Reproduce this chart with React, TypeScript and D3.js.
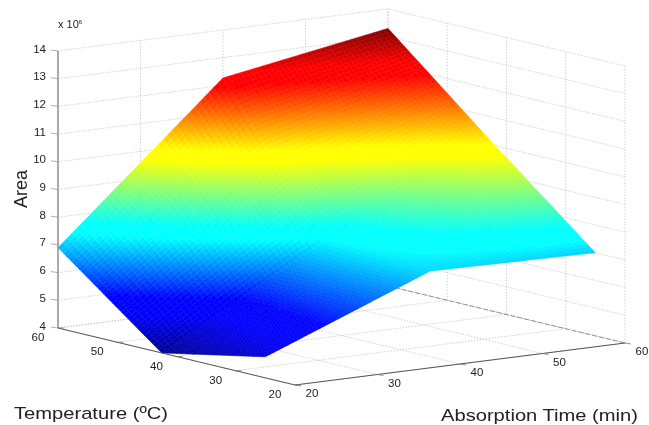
import React from 'react';
import * as d3 from 'd3';

// values
const timeGrid = [20, 40, 60];
const tempGrid = [25, 42.5, 60];
// area / 1e6, rows follow tempGrid, columns follow timeGrid
const areaRow25 = [4.76, 7.1, 7.0];
const areaRow42 = [4.0, 7.33, 10.1];
const areaRow60 = [6.9, 12.27, 13.3];

const timeTicks = [20, 30, 40, 50, 60];
const tempTicks = [20, 30, 40, 50, 60];
const areaTicks = [4, 5, 6, 7, 8, 9, 10, 11, 12, 13, 14];
// jet, with the small plateaus the picture shows at blue, cyan, yellow and red
const jetStops = ['#00008f', '#0000ff', '#0000ff', '#00ffff', '#00ffff', '#ffff00', '#ffff00', '#ff0000', '#ff0000', '#800000'];
const jetDomain = [0, 0.12, 0.17, 0.36, 0.4, 0.61, 0.65, 0.86, 0.9, 1];

// axonometric projection, box corners taken from the MATLAB figure
const timeX = d3.scaleLinear().domain([20, 60]).range([0, 330]);
const timeY = d3.scaleLinear().domain([20, 60]).range([0, -42]);
const tempX = d3.scaleLinear().domain([20, 60]).range([0, -237]);
const tempY = d3.scaleLinear().domain([20, 60]).range([0, -57]);
const areaY = d3.scaleLinear().domain([4, 14]).range([0, -277]);
const origin = [295, 385];

const project = (t: number, T: number, a: number): [number, number] => [
  origin[0] + timeX(t) + tempX(T),
  origin[1] + timeY(t) + tempY(T) + areaY(a),
];

const areaRows = [areaRow25, areaRow42, areaRow60];
const zMin = 4;
const zMax = 13.3;
const jet = d3.scaleLinear<string>().domain(jetDomain).range(jetStops).interpolate(d3.interpolateRgb);
const color = (a: number) => jet((a - zMin) / (zMax - zMin));
const lineGen = d3.line();

const STEPS = 36;

// slice every grid cell into small pieces, each one filled from its mean area
function surfaceCells() {
  const cells: { d: string; fill: string }[] = [];
  for (let i = 0; i < tempGrid.length - 1; i++) {
    for (let j = 0; j < timeGrid.length - 1; j++) {
      const v00 = { t: timeGrid[j], T: tempGrid[i], a: areaRows[i][j] };
      const v01 = { t: timeGrid[j + 1], T: tempGrid[i], a: areaRows[i][j + 1] };
      const v10 = { t: timeGrid[j], T: tempGrid[i + 1], a: areaRows[i + 1][j] };
      const v11 = { t: timeGrid[j + 1], T: tempGrid[i + 1], a: areaRows[i + 1][j + 1] };
      for (let u = 0; u < STEPS; u++) {
        for (let v = 0; v < STEPS; v++) {
          const at = (p: number, q: number) => {
            const a = d3.interpolateNumber(d3.interpolateNumber(v00.a, v01.a)(q), d3.interpolateNumber(v10.a, v11.a)(q))(p);
            const tt = d3.interpolateNumber(v00.t, v01.t)(q);
            const TT = d3.interpolateNumber(v00.T, v10.T)(p);
            return { a, pt: project(tt, TT, a) };
          };
          const p0 = at(u / STEPS, v / STEPS);
          const p1 = at(u / STEPS, (v + 1) / STEPS);
          const p2 = at((u + 1) / STEPS, (v + 1) / STEPS);
          const p3 = at((u + 1) / STEPS, v / STEPS);
          cells.push({
            d: lineGen([p0.pt, p1.pt, p2.pt, p3.pt])! + 'Z',
            fill: color((p0.a + p1.a + p2.a + p3.a) / 4),
          });
        }
      }
    }
  }
  return cells;
}

const font = '"Liberation Sans", Arial, sans-serif';
const gridStyle = { stroke: '#c6c6c6', strokeWidth: 0.8, strokeDasharray: '1.5 1.5', fill: 'none' };

function GridLine({ a, b }: { a: [number, number]; b: [number, number] }) {
  return <path d={lineGen([a, b])!} {...gridStyle} />;
}

export default function App() {
  const cells = surfaceCells();
  return (
    <svg width={649} height={425} style={{ position: 'absolute', left: 0, top: 0, background: '#fff' }}>
      <defs>
        <filter id="soft" x="-5%" y="-5%" width="110%" height="110%">
          <feGaussianBlur stdDeviation="0.35" />
        </filter>
        <filter id="softer" x="-5%" y="-5%" width="110%" height="110%">
          <feGaussianBlur stdDeviation="0.7" />
        </filter>
      </defs>
      <g filter="url(#soft)">
        {/* back walls */}
        {areaTicks.map((a) => (
          <g key={a}>
            <GridLine a={project(20, 60, a)} b={project(60, 60, a)} />
            <GridLine a={project(60, 60, a)} b={project(60, 20, a)} />
          </g>
        ))}
        {timeTicks.map((t) => (
          <GridLine key={t} a={project(t, 60, 4)} b={project(t, 60, 14)} />
        ))}
        {tempTicks.map((T) => (
          <GridLine key={T} a={project(60, T, 4)} b={project(60, T, 14)} />
        ))}
        {/* floor */}
        {timeTicks.map((t) => (
          <GridLine key={t} a={project(t, 20, 4)} b={project(t, 60, 4)} />
        ))}
        {tempTicks.map((T) => (
          <GridLine key={T} a={project(20, T, 4)} b={project(60, T, 4)} />
        ))}
        <path
          d={lineGen([project(60, 60, 4), project(60, 20, 4)])!}
          stroke="#8c8c8c"
          strokeWidth={0.9}
          strokeDasharray="5 2"
          fill="none"
        />
      </g>
      <g filter="url(#softer)">
        {cells.map((c, i) => (
          <path key={i} d={c.d} fill={c.fill} stroke={c.fill} strokeWidth={0.5} />
        ))}
      </g>
      <g filter="url(#soft)" stroke="#555" fill="none">
        <path d={lineGen([project(20, 60, 4), project(20, 60, 14)])!} stroke="#8a8a8a" strokeWidth={1.4} />
        <path d={lineGen([project(20, 60, 4), project(20, 20, 4), project(60, 20, 4)])!} strokeWidth={1} />
        {areaTicks.map((a) => {
          const [x, y] = project(20, 60, a);
          return <path key={a} d={`M${x - 7},${y - 1}L${x},${y}`} strokeWidth={0.8} stroke="#999" />;
        })}
        {tempTicks.map((T) => {
          const [x, y] = project(20, T, 4);
          return <path key={T} d={`M${x},${y}L${x + 6},${y}`} strokeWidth={0.8} stroke="#777" />;
        })}
        {timeTicks.map((t) => {
          const [x, y] = project(t, 20, 4);
          return <path key={t} d={`M${x},${y}L${x + 6},${y + 1}`} strokeWidth={0.8} stroke="#777" />;
        })}
      </g>
      <g filter="url(#soft)" fontFamily={font} fill="#222" fontSize={11.5}>
        {areaTicks.map((a) => {
          const [x, y] = project(20, 60, a);
          return (
            <text key={a} x={x - 12} y={y + 1.5} textAnchor="end">
              {a}
            </text>
          );
        })}
        {tempTicks.map((T) => {
          const [x, y] = project(20, T, 4);
          return (
            <text key={T} x={x - 20} y={y + 13} textAnchor="middle">
              {T}
            </text>
          );
        })}
        {timeTicks.map((t) => {
          const [x, y] = project(t, 20, 4);
          return (
            <text key={t} x={x + 17} y={y + 12} textAnchor="middle">
              {t}
            </text>
          );
        })}
        <text x={58} y={28} fontSize={11}>
          x 10
          <tspan dy={-4} fontSize={6}>
            6
          </tspan>
        </text>
        <text transform="translate(27,208) rotate(-90)" fontSize={18}>
          Area
        </text>
        <text x={14} y={419} fontSize={17} textLength={154} lengthAdjust="spacingAndGlyphs">
          Temperature (ºC)
        </text>
        <text x={441} y={421} fontSize={16} textLength={197} lengthAdjust="spacingAndGlyphs">
          Absorption Time (min)
        </text>
      </g>
    </svg>
  );
}
